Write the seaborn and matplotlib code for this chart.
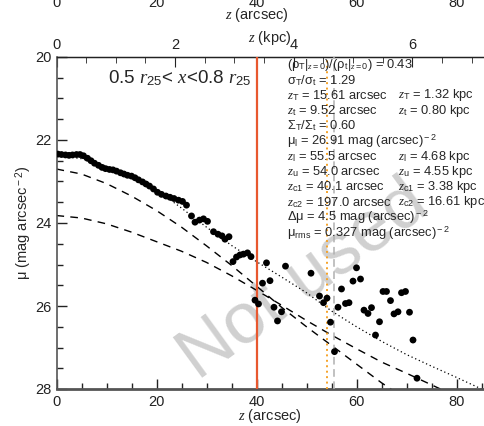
import numpy as np
import pandas as pd
import matplotlib
matplotlib.use("Agg")
import matplotlib.pyplot as plt
import matplotlib.transforms as mtransforms
from matplotlib.ticker import MultipleLocator
import seaborn as sns

# measured profile (z in arcsec, mu in mag arcsec^-2)
z_obs = [0.3, 1.0, 1.8, 2.5, 3.2, 4.0, 4.7, 5.4, 6.2, 6.9, 7.6, 8.4, 9.1, 9.8,
         10.6, 11.3, 12.0, 12.8, 13.5, 14.2, 15.0, 15.7, 16.4, 17.2, 17.9, 18.6,
         19.4, 20.2, 21.0, 21.9, 22.7, 23.5, 24.4, 25.2, 26.0, 27.0, 27.7, 28.6,
         29.4, 30.2, 31.4, 32.3, 33.1, 33.7, 34.5, 35.3, 36.0, 36.7, 37.4, 38.2,
         38.9, 39.7, 40.4, 41.2, 42.0, 42.7, 43.5, 44.2, 45.0, 45.8, 50.9, 52.6,
         53.4, 54.1, 54.8, 55.6, 56.3, 57.0, 57.8, 58.5, 59.3, 60.0, 60.8, 61.5,
         62.3, 63.0, 63.8, 64.6, 65.3, 66.0, 66.8, 67.5, 68.3, 69.0, 69.8, 70.6,
         71.3, 72.1]
mu_obs = [22.34, 22.35, 22.36, 22.37, 22.36, 22.35, 22.35, 22.38, 22.44, 22.50,
          22.56, 22.61, 22.66, 22.69, 22.71, 22.72, 22.75, 22.79, 22.82, 22.85,
          22.87, 22.91, 22.96, 23.01, 23.06, 23.11, 23.18, 23.26, 23.31, 23.35,
          23.38, 23.41, 23.45, 23.48, 23.57, 23.83, 23.98, 23.93, 23.90, 23.96,
          24.21, 24.27, 24.31, 24.39, 24.33, 24.93, 24.82, 24.77, 24.75, 24.72,
          24.81, 25.86, 25.95, 25.45, 24.96, 25.39, 26.03, 26.36, 26.14, 25.04,
          25.21, 25.76, 25.92, 25.81, 26.39, 27.10, 26.03, 25.59, 25.94, 25.92,
          25.40, 25.08, 25.35, 26.10, 26.18, 26.04, 26.70, 26.38, 25.65, 25.65,
          25.87, 26.19, 26.14, 25.68, 25.65, 26.15, 26.82, 27.74]

# fitted components
z_fit = [0, 5, 10, 15, 20, 25, 30, 35, 40, 45, 50, 55, 60, 65, 70, 75, 80, 85]
mu_thin = [22.70, 22.82, 23.05, 23.35, 23.70, 24.10, 24.55, 25.02, 25.52, 26.03,
           26.50, 26.95, 27.40, 27.85, 28.25, 28.65, 29.05, 29.45]
mu_thick = [23.82, 23.88, 24.02, 24.22, 24.45, 24.68, 24.95, 25.27, 25.62, 25.98,
            26.35, 26.70, 27.03, 27.35, 27.62, 27.90, 28.18, 28.45]
mu_total = [22.37, 22.45, 22.63, 22.88, 23.20, 23.64, 24.10, 24.54, 24.93, 25.30,
            25.68, 26.12, 26.50, 26.85, 27.17, 27.45, 27.72, 28.00]

z_c1 = 40.1
z_u = 54.0
z_l = 55.5
kpc_per_arcsec = 0.08432

info_left = [
    r"(ρ$_{\rm T}$|$_{z\rm =0}$)/(ρ$_{\rm t}$|$_{z\rm =0}$) = 0.43",
    r"σ$_{\rm T}$/σ$_{\rm t}$ = 1.29",
    r"$z_{\rm T}$ = 15.61 arcsec",
    r"$z_{\rm t}$ = 9.52 arcsec",
    r"Σ$_{\rm T}$/Σ$_{\rm t}$ = 0.60",
    r"μ$_{\rm l}$ = 26.91 mag (arcsec)$^{\rm -2}$",
    r"$z_{\rm l}$ = 55.5 arcsec",
    r"$z_{\rm u}$ = 54.0 arcsec",
    r"$z_{\rm c1}$ = 40.1 arcsec",
    r"$z_{\rm c2}$ = 197.0 arcsec",
    r"Δμ = 4.5 mag (arcsec)$^{\rm -2}$",
    r"μ$_{\rm rms}$ = 0.327 mag (arcsec)$^{\rm -2}$",
]
info_right = ["", "", r"$z_{\rm T}$ = 1.32 kpc", r"$z_{\rm t}$ = 0.80 kpc", "", "",
              r"$z_{\rm l}$ = 4.68 kpc", r"$z_{\rm u}$ = 4.55 kpc",
              r"$z_{\rm c1}$ = 3.38 kpc", r"$z_{\rm c2}$ = 16.61 kpc", "", ""]

sns.set_style("ticks")
plt.rcParams['font.family'] = ['Liberation Sans', 'DejaVu Sans']
plt.rcParams['mathtext.fontset'] = 'custom'
plt.rcParams['mathtext.rm'] = 'Liberation Sans'
plt.rcParams['mathtext.it'] = 'Liberation Serif:italic'
plt.rcParams['mathtext.bf'] = 'Liberation Sans:bold'

fig = plt.figure(figsize=(4.84, 4.26), dpi=100)
ax = fig.add_axes([56.5 / 484, 37 / 426, 427.5 / 484, 332 / 426])

# watermark
ax.text(49.5, 25.4, "Not used", fontsize=52, color="#d0d0d0", rotation=36,
        ha="center", va="center", zorder=0)

df_fit = pd.DataFrame({"z": z_fit, "thin": mu_thin, "thick": mu_thick, "total": mu_total})
sns.lineplot(data=df_fit, x="z", y="thin", ax=ax, color="black", lw=1.0,
             linestyle=(0, (5.5, 4.5)), estimator=None, sort=False)
sns.lineplot(data=df_fit, x="z", y="thick", ax=ax, color="black", lw=1.0,
             linestyle=(0, (5.5, 4.5)), estimator=None, sort=False)
sns.lineplot(data=df_fit, x="z", y="total", ax=ax, color="black", lw=0.9,
             linestyle=(0, (1, 2.2)), estimator=None, sort=False)

ax.axvline(z_c1, color="#e8582f", lw=1.6, zorder=3)
ax.axvline(z_u, color="#f5a32a", lw=1.4, linestyle=(0, (1, 1.8)), zorder=3)
ax.axvline(z_l, color="#b0b0b0", lw=1.1, linestyle=(0, (5, 3)), zorder=3)

df_obs = pd.DataFrame({"z": z_obs, "mu": mu_obs})
sns.scatterplot(data=df_obs, x="z", y="mu", ax=ax, color="black", s=24,
                edgecolor="none", zorder=4)

ax.set_xlim(0, 85.5)
ax.set_ylim(28, 20)
ax.xaxis.set_major_locator(MultipleLocator(20))
ax.xaxis.set_minor_locator(MultipleLocator(5))
ax.yaxis.set_major_locator(MultipleLocator(2))
ax.yaxis.set_minor_locator(MultipleLocator(0.5))
ax.tick_params(which="both", direction="in", labelsize=10.5, colors="#222222",
               width=1.0, top=False, right=False)
ax.tick_params(which="major", length=7)
ax.tick_params(which="minor", length=4)
ax.tick_params(axis="x", pad=4)
for side in ["left", "bottom"]:
    ax.spines[side].set_color("#555555")
ax.spines["left"].set_linewidth(1.2)
ax.spines["bottom"].set_linewidth(2.0)
ax.spines["right"].set_visible(False)
ax.spines["top"].set_color("#222222")
ax.spines["top"].set_linewidth(1.0)

ax.set_xlabel(r"$z$ (arcsec)", fontsize=10.5, labelpad=-1)
ax.set_ylabel(r"μ (mag arcsec$^{\rm -2}$)", fontsize=10.5, labelpad=1)

sec = ax.secondary_xaxis("top", functions=(lambda a: a * kpc_per_arcsec,
                                           lambda k: k / kpc_per_arcsec))
sec.xaxis.set_major_locator(MultipleLocator(2))
sec.xaxis.set_minor_locator(MultipleLocator(0.5))
sec.tick_params(which="both", direction="in", labelsize=10.5, colors="#222222")
sec.tick_params(which="major", length=7)
sec.tick_params(which="minor", length=4)
sec.set_xlabel(r"$z$ (kpc)", fontsize=10.5, labelpad=-3)

ax.text(24.7, 20.5, r"0.5 $r_{\rm 25}$< $x$<0.8 $r_{\rm 25}$", fontsize=13.5,
        ha="center", va="center")

y0 = 20.19
dy = 0.368
for i, (lt, rt) in enumerate(zip(info_left, info_right)):
    ax.text(46.1, y0 + i * dy, lt, fontsize=9.3, ha="left", va="center", zorder=5)
    if rt:
        ax.text(68.2, y0 + i * dy, rt, fontsize=9.3, ha="left", va="center", zorder=5)

# remnant of the panel above (cropped at the top of the image)
trans = mtransforms.blended_transform_factory(ax.transData, fig.transFigure)
for v in [0, 20, 40, 60, 80]:
    fig.text(v, 1 - 3 / 426, str(v), transform=trans, fontsize=10.5,
             ha="center", va="center", color="#222222")
fig.text(40, 1 - 15 / 426, r"$z$ (arcsec)", transform=trans, fontsize=10.5,
         ha="center", va="center")

fig.savefig("out.png", dpi=100)
